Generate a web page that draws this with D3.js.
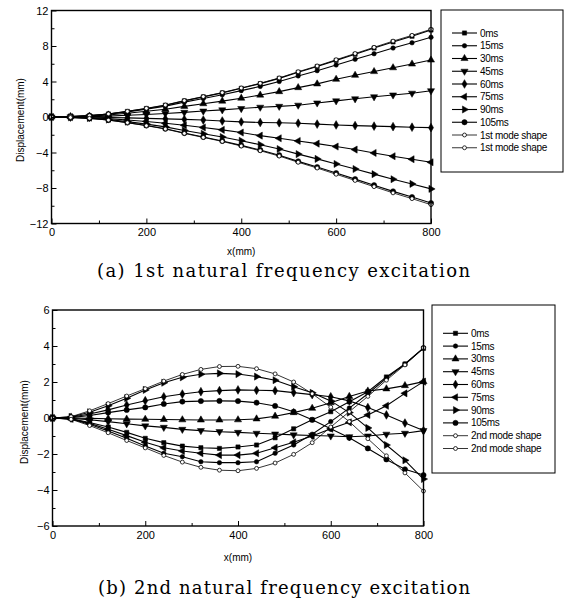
<!DOCTYPE html>
<html><head><meta charset="utf-8">
<script src="https://cdn.jsdelivr.net/npm/d3@7"></script>
<style>body{margin:0;background:#fff}svg{display:block}</style>
</head><body>
<svg id="c" width="564" height="603"></svg>
<script>
// ---------- DATA ----------
const xPos = [0,40,80,120,160,200,240,280,320,360,400,440,480,520,560,600,640,680,720,760,800];
const xTicksMajor = [0,200,400,600,800];
const xTicksMinor = [100,300,500,700];

const labelsA = ["0ms","15ms","30ms","45ms","60ms","75ms","90ms","105ms","1st mode shape","1st mode shape"];
const labelsB = ["0ms","15ms","30ms","45ms","60ms","75ms","90ms","105ms","2nd mode shape","2nd mode shape"];

// (a) 1st natural frequency excitation
const a_0ms   = [0,0.05,0.15,0.34,0.63,0.96,1.33,1.82,2.27,2.72,3.23,3.76,4.35,5.04,5.69,6.38,7.07,7.77,8.46,9.1,9.8];
const a_15ms  = [0,0.04,0.14,0.32,0.58,0.89,1.23,1.68,2.09,2.5,2.97,3.45,4.0,4.63,5.22,5.86,6.5,7.13,7.77,8.36,8.98];
const a_30ms  = [0,0.03,0.1,0.23,0.42,0.64,0.88,1.2,1.5,1.79,2.12,2.47,2.86,3.31,3.73,4.25,4.7,5.12,5.55,5.97,6.42];
const a_45ms  = [0,0.01,0.04,0.1,0.19,0.29,0.4,0.52,0.67,0.8,0.95,1.1,1.2,1.33,1.58,1.82,2.05,2.28,2.48,2.68,2.96];
const a_60ms  = [0,-0.01,-0.03,-0.06,-0.1,-0.15,-0.21,-0.27,-0.34,-0.45,-0.55,-0.62,-0.65,-0.7,-0.8,-0.9,-0.97,-1.03,-1.09,-1.15,-1.2];
const a_75ms  = [0,-0.02,-0.08,-0.18,-0.33,-0.5,-0.7,-0.93,-1.18,-1.45,-1.75,-2.1,-2.4,-2.7,-3.0,-3.33,-3.67,-4.05,-4.42,-4.76,-5.1];
const a_90ms  = [0,-0.04,-0.12,-0.29,-0.52,-0.8,-1.11,-1.52,-1.89,-2.26,-2.68,-3.12,-3.61,-4.18,-4.72,-5.29,-5.86,-6.44,-7.01,-7.54,-8.1];
const a_105ms = [0,-0.05,-0.15,-0.34,-0.63,-0.96,-1.32,-1.81,-2.25,-2.7,-3.2,-3.72,-4.31,-5.0,-5.64,-6.32,-7.0,-7.69,-8.38,-9.02,-9.7];
const a_modeP = [0,0.05,0.15,0.35,0.64,0.98,1.35,1.85,2.3,2.75,3.27,3.8,4.4,5.1,5.75,6.45,7.15,7.85,8.55,9.2,9.88];
const a_modeN = [0,-0.05,-0.15,-0.35,-0.64,-0.98,-1.35,-1.85,-2.3,-2.75,-3.27,-3.8,-4.4,-5.1,-5.75,-6.45,-7.15,-7.85,-8.55,-9.2,-9.88];

// (b) 2nd natural frequency excitation
const b_0ms   = [0,-0.04,-0.25,-0.5,-0.8,-1.13,-1.37,-1.56,-1.65,-1.69,-1.61,-1.5,-1.1,-0.6,-0.1,0.35,0.9,1.46,2.28,3.0,3.87];
const b_15ms  = [0,-0.06,-0.35,-0.72,-1.12,-1.55,-1.96,-2.15,-2.43,-2.48,-2.48,-2.43,-1.96,-1.5,-0.9,-0.2,0.55,1.35,2.2,3.0,3.9];
const b_30ms  = [0,0,-0.02,-0.04,-0.06,-0.07,-0.08,-0.1,-0.11,-0.11,-0.1,-0.05,0.1,0.3,0.54,0.85,1.2,1.5,1.62,1.8,2.02];
const b_45ms  = [0,-0.02,-0.1,-0.2,-0.32,-0.44,-0.52,-0.63,-0.7,-0.76,-0.8,-0.85,-0.89,-0.94,-0.97,-1.0,-1.04,-1.0,-0.9,-0.85,-0.7];
const b_60ms  = [0,0.04,0.22,0.45,0.72,0.96,1.18,1.33,1.46,1.52,1.56,1.54,1.52,1.41,1.3,1.18,0.95,0.58,0.17,-0.28,-0.7];
const b_75ms  = [0,-0.05,-0.3,-0.62,-0.98,-1.35,-1.65,-1.83,-1.96,-2.06,-2.06,-1.96,-1.65,-1.35,-1.0,-0.6,-0.24,0.17,0.68,1.37,2.02];
const b_90ms  = [0,0.06,0.32,0.68,1.1,1.56,1.96,2.26,2.43,2.48,2.44,2.3,2.1,1.74,1.4,0.95,0.3,-0.55,-1.5,-2.35,-3.39];
const b_105ms = [0,0.02,0.14,0.3,0.45,0.59,0.78,0.91,0.94,0.95,0.94,0.85,0.67,0.35,-0.1,-0.6,-1.1,-1.69,-2.3,-2.85,-3.17];
const b_modeP = [0,0.07,0.4,0.8,1.22,1.63,2.05,2.42,2.7,2.86,2.87,2.74,2.45,2.0,1.35,0.6,-0.2,-1.15,-2.1,-3.05,-4.06];
const b_modeN = [0,-0.07,-0.42,-0.82,-1.25,-1.66,-2.08,-2.45,-2.74,-2.9,-2.93,-2.8,-2.5,-2.02,-1.37,-0.5,0.35,1.2,2.1,2.95,3.9];

const seriesA = [a_0ms,a_15ms,a_30ms,a_45ms,a_60ms,a_75ms,a_90ms,a_105ms,a_modeP,a_modeN];
const seriesB = [b_0ms,b_15ms,b_30ms,b_45ms,b_60ms,b_75ms,b_90ms,b_105ms,b_modeP,b_modeN];

const yTicksA = [-12,-8,-4,0,4,8,12], yMinorA = [-10,-6,-2,2,6,10];
const yTicksB = [-6,-4,-2,0,2,4,6],  yMinorB = [-5,-3,-1,1,3,5];

// ---------- DRAWING ----------
const svg = d3.select("#c");
const SANS = "'Liberation Sans', Arial, sans-serif";
const SERIF = "'DejaVu Serif', 'Liberation Serif', serif";

// marker definitions: [symbol type, rotation, area, open]
const markers = [
  [d3.symbolSquare,0,18,false],
  [d3.symbolCircle,0,16,false],
  [d3.symbolTriangle,0,22,false],
  [d3.symbolTriangle,180,22,false],
  [d3.symbolDiamond,0,22,false],
  [d3.symbolTriangle,-90,22,false],
  [d3.symbolTriangle,90,22,false],
  [d3.symbolCircle,0,22,false],
  [d3.symbolCircle,0,12,true],
  [d3.symbolCircle,0,12,true]
];

function drawMarker(g, k, cx, cy){
  const m = markers[k];
  g.append("path")
    .attr("d", d3.symbol().type(m[0]).size(m[2])())
    .attr("transform", `translate(${cx},${cy}) rotate(${m[1]})`)
    .attr("fill", m[3] ? "#fff" : "#000")
    .attr("stroke", "#000")
    .attr("stroke-width", m[3] ? 0.8 : 0.5);
}

function panel(o){
  const g = svg.append("g");
  const x = d3.scaleLinear().domain([0,800]).range([o.l,o.r]);
  const y = d3.scaleLinear().domain([o.ymin,o.ymax]).range([o.b,o.t]);

  const line = d3.line().x((d,i)=>x(xPos[i])).y(d=>y(d));
  o.series.forEach((s,k)=>{
    g.append("path").datum(s).attr("d",line)
      .attr("fill","none").attr("stroke","#000")
      .attr("stroke-width", k>=8 ? 0.8 : 1.1);
  });
  o.series.forEach((s,k)=>{
    s.forEach((v,i)=>drawMarker(g,k,x(xPos[i]),y(v)));
  });

  g.append("rect").attr("x",o.l).attr("y",o.t).attr("width",o.r-o.l).attr("height",o.b-o.t)
    .attr("fill","none").attr("stroke","#000").attr("stroke-width",1.4);

  const xa = g.append("g").attr("transform",`translate(0,${o.b})`)
    .call(d3.axisBottom(x).tickValues(xTicksMajor).tickSize(-5).tickPadding(5).tickFormat(d3.format("d")));
  const xm = g.append("g").attr("transform",`translate(0,${o.b})`)
    .call(d3.axisBottom(x).tickValues(xTicksMinor).tickSize(-3).tickFormat(""));
  const ya = g.append("g").attr("transform",`translate(${o.l},0)`)
    .call(d3.axisLeft(y).tickValues(o.yTicks).tickSize(-5).tickPadding(3).tickFormat(d3.format("d")));
  const ym = g.append("g").attr("transform",`translate(${o.l},0)`)
    .call(d3.axisLeft(y).tickValues(o.yMinor).tickSize(-3).tickFormat(""));
  [xa,xm,ya,ym].forEach(a=>{
    a.select(".domain").remove();
    a.selectAll("line").attr("stroke","#000").attr("stroke-width",1);
    a.selectAll("text").attr("font-family",SANS).attr("font-size","11px").attr("fill","#000");
  });

  g.append("text").attr("x",(o.l+o.r)/2).attr("y",o.xtY)
    .attr("text-anchor","middle").attr("font-family",SANS).attr("font-size","10px").text("x(mm)");
  g.append("text").attr("transform",`translate(${o.ytX},${o.ytY}) rotate(-90)`)
    .attr("text-anchor","middle").attr("font-family",SANS).attr("font-size","10px").text("Displacement(mm)");

  g.append("rect").attr("x",o.lg.x).attr("y",o.lg.y).attr("width",o.lg.w).attr("height",o.lg.h)
    .attr("fill","#fff").attr("stroke","#000").attr("stroke-width",1);
  o.labels.forEach((lab,k)=>{
    const ly = o.lg.y0 + k*o.lg.dy;
    g.append("line").attr("x1",o.lg.lx1).attr("x2",o.lg.lx2).attr("y1",ly).attr("y2",ly)
      .attr("stroke","#000").attr("stroke-width",k>=8?0.8:1.1);
    drawMarker(g,k,(o.lg.lx1+o.lg.lx2)/2,ly);
    g.append("text").attr("x",o.lg.tx).attr("y",ly).attr("dy","0.35em")
      .attr("font-family",SANS).attr("font-size","10px").attr("letter-spacing","-0.3px").text(lab);
  });

  g.append("text").attr("x",o.cap.x).attr("y",o.cap.y)
    .attr("font-family",SERIF).attr("font-size","18px")
    .attr("textLength",o.cap.len).attr("lengthAdjust","spacing").text(o.cap.text);
}

panel({
  l:51.5, r:431, t:10.5, b:223.5, ymin:-12, ymax:12,
  yTicks:yTicksA, yMinor:yMinorA, series:seriesA, labels:labelsA,
  xtY:255, ytX:24, ytY:120,
  lg:{x:441,y:10,w:122,h:162,y0:33,dy:12.75,lx1:452,lx2:477,tx:480},
  cap:{x:97,y:277,len:373,text:"(a)  1st  natural  frequency  excitation"}
});
panel({
  l:52.5, r:423.5, t:310, b:526, ymin:-6, ymax:6,
  yTicks:yTicksB, yMinor:yMinorB, series:seriesB, labels:labelsB,
  xtY:561, ytX:28, ytY:422,
  lg:{x:432,y:305,w:123,h:168,y0:333.3,dy:12.8,lx1:443,lx2:468,tx:471},
  cap:{x:98,y:594,len:372,text:"(b)  2nd  natural  frequency  excitation"}
});
</script>
</body></html>
